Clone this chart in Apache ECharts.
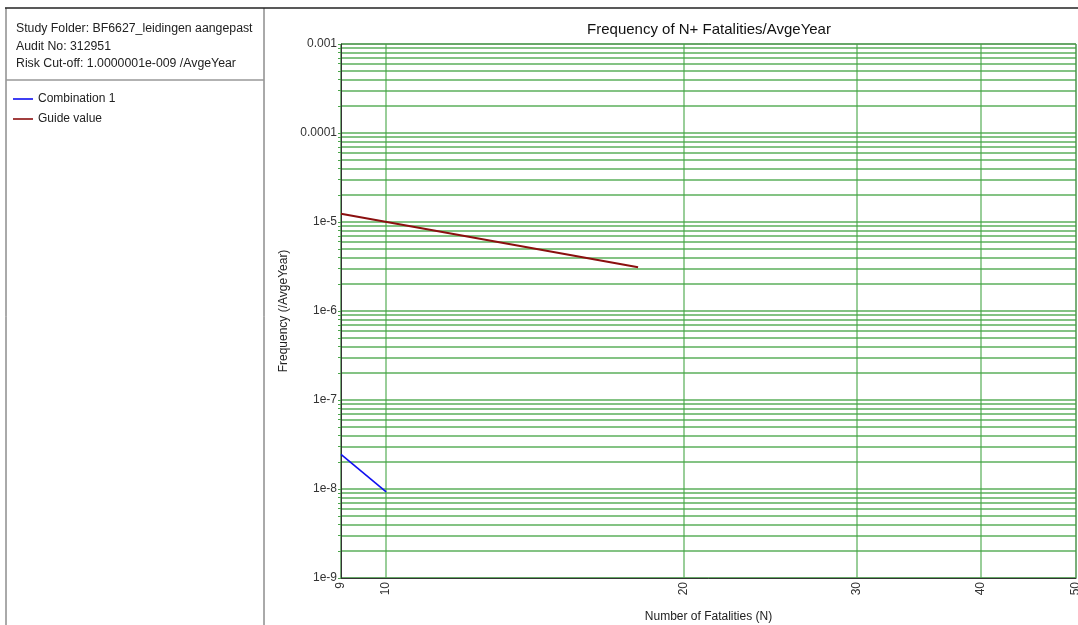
<!DOCTYPE html>
<html>
<head>
<meta charset="utf-8">
<script src="https://cdn.jsdelivr.net/npm/echarts@6/dist/echarts.min.js"></script>
<style>
  html, body {margin: 0; padding: 0; background: #fff;}
  #chart {width: 1078px; height: 625px;}
</style>
</head>
<body>
<div id="chart"></div>
<script>
// -- data --
let seriesNames = ['Combination 1', 'Guide value'];
let combinationData = [[9, 2.45e-8], [10, 9.3e-9]];
let guideData = [[9, 1.24e-5], [18, 3.1e-6]];
let xTicks = [9, 10, 20, 30, 40, 50];
let yDecades = [1e-9, 1e-8, 1e-7, 1e-6, 1e-5, 1e-4, 1e-3];
let yTickLabels = ['1e-9', '1e-8', '1e-7', '1e-6', '1e-5', '0.0001', '0.001'];
let yMinorSteps = [1, 2, 3, 4, 5, 6, 7, 8, 9];
let infoLines = ['Study Folder: BF6627_leidingen aangepast', 'Audit No: 312951',
                 'Risk Cut-off: 1.0000001e-009 /AvgeYear'];

let font = 'Liberation Sans, Arial, sans-serif';

// gridlines at 1..9 x every decade
let yGridValues = [];
yDecades.forEach(function (d, i) {
  if (i === yDecades.length - 1) {
    yGridValues.push(d);
    return;
  }
  yMinorSteps.forEach(function (s) {
    yGridValues.push(d * s);
  });
});

let frame = [
  {type: 'line', shape: {x1: 5, y1: 8, x2: 1078, y2: 8}, style: {stroke: '#222', lineWidth: 1.5}, z: 10},
  {type: 'line', shape: {x1: 6, y1: 8, x2: 6, y2: 625}, style: {stroke: '#555', lineWidth: 1}},
  {type: 'line', shape: {x1: 264, y1: 8, x2: 264, y2: 625}, style: {stroke: '#555', lineWidth: 1}},
  {type: 'line', shape: {x1: 6, y1: 80, x2: 264, y2: 80}, style: {stroke: '#999', lineWidth: 1.5}}
];
infoLines.forEach(function (t, i) {
  frame.push({
    type: 'text', left: 16, top: 23 + i * 17.5,
    style: {text: t, fill: '#222', font: '12.3px ' + font}
  });
});

let option = {
  animation: false,
  title: {
    text: 'Frequency of N+ Fatalities/AvgeYear',
    left: 704, top: 17, textAlign: 'center',
    textStyle: {fontFamily: font, fontSize: 15, fontWeight: 'normal', color: '#111'}
  },
  legend: {
    orient: 'vertical', left: 13, top: 93, padding: 0,
    itemWidth: 20, itemHeight: 12, itemGap: 8,
    icon: 'path://M0,0 L20,0 L20,1.6 L0,1.6 Z',
    textStyle: {fontFamily: font, fontSize: 12, color: '#222'},
    data: seriesNames
  },
  grid: {
    left: 341, top: 44, right: 2, bottom: 47,
    outerBoundsMode: 'none', containLabel: false,
    show: true, borderColor: '#777', borderWidth: 1
  },
  xAxis: {
    type: 'log', logBase: 10, min: 9, max: 50,
    name: 'Number of Fatalities (N)', nameLocation: 'middle', nameGap: 33,
    nameTextStyle: {fontFamily: font, fontSize: 12, color: '#222'},
    axisLine: {lineStyle: {color: '#333'}},
    axisTick: {show: false, customValues: xTicks},
    axisLabel: {
      customValues: xTicks, rotate: 90, margin: 4,
      fontFamily: font, fontSize: 12, color: '#333'
    },
    splitLine: {show: true, lineStyle: {color: 'rgba(70,165,70,0.55)', width: 2}}
  },
  yAxis: {
    type: 'log', logBase: 10, min: 1e-9, max: 1e-3,
    name: 'Frequency (/AvgeYear)', nameLocation: 'middle', nameGap: 51,
    nameTextStyle: {fontFamily: font, fontSize: 12, color: '#222'},
    axisLine: {lineStyle: {color: '#333'}},
    axisTick: {show: true, length: 3, customValues: yGridValues, lineStyle: {color: '#4aa64a'}},
    axisLabel: {
      customValues: yDecades, margin: 4,
      fontFamily: font, fontSize: 12, color: '#333',
      formatter: function (v) {
        return yTickLabels[Math.round(Math.log10(v)) + 9];
      }
    },
    splitLine: {show: true, lineStyle: {color: 'rgba(50,155,50,0.8)', width: 1.5}}
  },
  graphic: frame,
  series: [
    {
      name: seriesNames[0], type: 'line', data: combinationData,
      symbol: 'none', color: '#1010f0', lineStyle: {width: 1.6}, z: 5
    },
    {
      name: seriesNames[1], type: 'line', data: guideData,
      symbol: 'none', color: '#8b0f0f', lineStyle: {width: 2}, z: 5
    }
  ]
};

let myChart = echarts.init(document.getElementById('chart'));
myChart.setOption(option);
</script>
</body>
</html>
